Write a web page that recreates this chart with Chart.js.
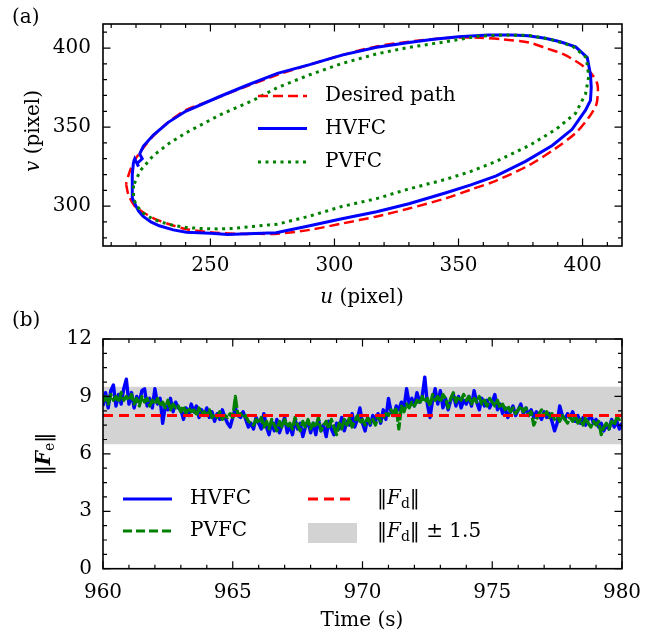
<!DOCTYPE html>
<html><head><meta charset="utf-8">
<script src="https://cdn.jsdelivr.net/npm/chart.js@4/dist/chart.umd.min.js"></script>
<style>
html,body{margin:0;padding:0;background:#fff;}
#wrapA{position:absolute;left:0;top:0;width:660px;height:310px;}
#wrapB{position:absolute;left:0;top:310px;width:660px;height:325px;}
</style></head>
<body>
<div id="wrapA"><canvas id="chartA" width="660" height="310"></canvas></div>
<div id="wrapB"><canvas id="chartB" width="660" height="325"></canvas></div>
<script>
// ---------------- Panel (a) data: image-plane paths (pixel) ----------------
const uTicks = [250, 300, 350, 400];
const vTicks = [300, 350, 400];
const desiredU = [216,217,219.5,224,228,234,240,247,254,262,270,277,290,303,317,330,345,355,365,378.6,389,397.4,402.8,405.5,406.1,406,404,401.4,397,392,386,378.6,368,358.4,347,330,317,303,290,277,264,254,247,240,233,227,223,220,217.5,216];
const desiredV = [314,307,300,295,291.7,288.2,285.6,284,283,282.5,282.5,282.5,285,289,293.5,298.5,305,310.5,316,326,336.4,346.5,356.7,364,370,377,383,387.2,392,396.3,399.5,403.4,405.5,406.5,406.5,404,401,395.5,389.5,383,375.5,369.3,365,360.7,353,344.5,337,330.3,322,314];
const hvfcU = [219,218.5,218.5,218.5,220,221,222.8,226,229.4,235,240.3,250,257,265,276.5,290,303,317,330,345,355,365.2,377,387.8,395.8,401.2,403.2,403.5,403.2,401.9,397.2,391,385,378,371.6,362,350,340,330,317,303,290,277,264,254,240,233,227,223,221.5,222.5,220.5,221,219.5,219];
const hvfcV = [328,320,312,305,300,297,293.7,290,287.6,285,283.5,282.8,282,282.5,283.2,287.6,292,296.5,301.5,308.5,313.5,319.1,328.3,338.4,348.6,360.7,366.9,375,383.1,394,400.7,404,406.2,407.8,408.3,408.3,407.2,405.5,403.5,400.5,395.5,389.5,384,376,369.5,360,353,345,338,333,330,327,325,330,328];
const pvfcU = [219,219,219.9,223,226.9,233,240.3,247,253.8,260,267.2,277,290,303,317,330,345,355,365.2,378.6,389.3,397.2,401.2,402.5,401.5,395.8,387,378.6,368,358,347,330,317,303,290,277,267.2,253.8,240.3,233.6,226.9,221.6,219];
const pvfcV = [313,306,300.8,295.5,291.7,288.5,286.5,285.8,285.6,286,287.2,288.6,293.7,299.8,304.8,310.9,317,322,328.3,338.4,348.6,358.8,371,382.1,394,401.4,405.5,408,408.2,407.5,404.5,400.4,396.3,390.2,383.1,375,366.9,357.7,346.5,340,331.9,322.2,313];

// ---------------- Panel (b) data: force norm vs time ----------------
const timeTicks = [960, 965, 970, 975, 980];
const forceTicks = [0, 3, 6, 9, 12];
const timeStart = 960;
const timeStep = 0.1;
const hvfcForce = [
8.5,9.2,8.4,9.3,9.6,8.5,9.1,8.6,9.4,9.9,
8.6,9.2,8.4,9.0,8.7,9.3,9.4,8.5,8.9,8.4,
9.4,8.6,8.9,7.6,8.5,8.3,8.9,8.2,8.7,8.4,
8.3,7.8,8.4,8.0,8.6,8.2,8.5,7.9,8.3,8.0,
8.4,7.9,8.2,7.7,8.1,7.8,8.3,7.9,7.6,7.4,
7.9,8.4,8.0,7.9,8.2,7.8,7.4,7.6,7.3,7.9,
7.6,7.3,8.1,7.4,7.0,7.7,7.2,7.8,7.1,7.5,
7.9,7.1,7.5,7.0,7.8,7.3,7.6,6.9,7.4,7.7,
7.1,7.6,7.0,7.8,7.2,7.5,6.9,7.7,7.3,7.0,
7.6,7.3,7.9,7.2,7.7,7.5,8.1,7.4,7.8,8.4,
7.6,7.2,7.9,7.5,8.0,7.7,8.1,7.6,8.3,7.8,
8.9,8.2,8.0,8.5,8.3,8.7,8.4,9.4,8.6,8.9,
8.5,9.2,8.7,9.0,10.0,8.6,7.9,8.8,9.4,8.6,
9.3,8.4,8.9,8.3,8.8,9.1,8.5,9.0,8.4,8.8,
8.6,9.0,8.5,9.3,8.7,8.3,8.9,8.5,8.8,8.4,
8.7,9.1,8.3,8.6,8.1,8.4,7.9,8.2,8.5,8.0,
8.3,8.6,8.1,8.4,8.0,8.3,7.9,8.2,8.0,7.8,
8.2,7.9,8.1,7.7,7.2,7.6,8.5,8.0,7.8,8.1,
7.9,8.2,7.7,8.0,7.6,7.9,7.5,7.8,8.0,7.6,
7.8,7.4,7.6,7.2,7.5,7.3,7.8,7.4,7.7,7.3,
7.6];
const pvfcForce = [
8.7,9.0,8.6,9.1,8.8,9.0,8.7,9.2,8.8,9.0,
8.8,9.1,8.6,8.9,8.5,9.0,8.7,8.9,8.5,8.8,
8.6,8.9,8.5,8.7,8.4,8.8,8.3,8.6,8.4,8.5,
8.2,8.5,8.1,8.4,8.2,8.3,8.0,8.4,8.1,8.2,
8.0,8.3,7.9,8.1,7.9,8.2,7.8,8.0,7.9,8.1,
7.9,9.0,8.0,8.1,7.9,8.0,7.7,7.6,7.5,7.8,
7.6,7.9,7.4,7.7,7.3,7.8,7.5,7.2,7.7,7.4,
7.8,7.4,7.6,7.3,7.9,7.5,7.2,7.7,7.4,7.8,
7.3,7.6,7.4,7.9,7.2,7.5,7.7,7.3,7.8,7.4,
7.0,7.6,7.3,7.8,7.5,7.9,7.4,7.7,8.0,7.6,
7.8,7.5,7.9,7.6,7.8,7.5,8.0,7.7,7.9,8.1,
8.0,8.3,8.1,8.4,7.3,8.5,8.2,8.6,8.4,8.7,
8.5,8.8,8.6,9.0,8.7,8.9,8.5,9.1,8.8,9.0,
8.7,9.1,8.9,8.4,8.9,9.2,8.7,9.0,8.8,9.1,
8.8,9.0,8.6,8.9,8.7,9.0,8.6,8.8,8.5,8.9,
8.7,8.5,8.8,8.4,8.6,8.3,8.5,8.2,8.4,8.1,
8.3,8.5,8.2,8.4,8.0,8.2,7.5,7.8,8.1,8.3,
8.0,8.2,7.9,8.1,7.8,8.0,7.7,8.0,7.8,7.6,
7.9,7.7,8.0,7.6,7.8,7.5,7.9,7.6,7.4,7.7,
7.5,7.7,7.0,7.4,7.6,7.3,7.7,7.5,7.9,7.8,
7.9];
const desiredForce = 8;
const bandHalfWidth = 1.5;
const timeRange = [960, 980];

// ---------------- helpers ----------------
const FONT = "'DejaVu Serif', 'Liberation Serif', serif";
const FS = 20;
Chart.defaults.font.family = FONT;
Chart.defaults.color = '#000';

function pts(xs, ys) { return xs.map((x, i) => ({x: x, y: ys[i]})); }
function series(vals) { return vals.map((v, i) => ({x: timeStart + i * timeStep, y: v})); }

function drawRich(ctx, parts, x, y, align) {
  let w = 0;
  parts.forEach(p => { ctx.font = p.font; p.w = ctx.measureText(p.t).width; w += p.w; });
  let cx = align === 'center' ? x - w / 2 : (align === 'right' ? x - w : x);
  ctx.textBaseline = 'middle';
  ctx.textAlign = 'left';
  parts.forEach(p => { ctx.font = p.font; ctx.fillText(p.t, cx, y + (p.dy || 0)); cx += p.w; });
}
const R = FS + 'px ' + FONT;
const I = 'italic ' + FS + 'px ' + FONT;
const BI = 'italic bold ' + FS + 'px ' + FONT;
const SUB = '14px ' + FONT;

function frame(o) {
  return {
    id: 'frame',
    afterDatasetsDraw(chart) {
      const ctx = chart.ctx, a = chart.chartArea, x = chart.scales.x, y = chart.scales.y;
      ctx.save();
      ctx.strokeStyle = '#000';
      ctx.lineWidth = 1.2;
      ctx.beginPath();
      const nx = Math.round((o.xMinorEnd - o.xMinorStart) / o.xMinor);
      for (let i = 0; i <= nx; i++) {
        const px = x.getPixelForValue(o.xMinorStart + i * o.xMinor);
        if (px < a.left - 0.5 || px > a.right + 0.5) continue;
        ctx.moveTo(px, a.bottom); ctx.lineTo(px, a.bottom - 4);
        ctx.moveTo(px, a.top); ctx.lineTo(px, a.top + 4);
      }
      const ny = Math.round((o.yMinorEnd - o.yMinorStart) / o.yMinor);
      for (let i = 0; i <= ny; i++) {
        const py = y.getPixelForValue(o.yMinorStart + i * o.yMinor);
        if (py < a.top - 0.5 || py > a.bottom + 0.5) continue;
        ctx.moveTo(a.left, py); ctx.lineTo(a.left + 4, py);
        ctx.moveTo(a.right, py); ctx.lineTo(a.right - 4, py);
      }
      x.ticks.forEach(t => {
        const px = x.getPixelForValue(t.value);
        ctx.moveTo(px, a.bottom); ctx.lineTo(px, a.bottom - 7.5);
        ctx.moveTo(px, a.top); ctx.lineTo(px, a.top + 7.5);
      });
      y.ticks.forEach(t => {
        const py = y.getPixelForValue(t.value);
        ctx.moveTo(a.left, py); ctx.lineTo(a.left + 7.5, py);
        ctx.moveTo(a.right, py); ctx.lineTo(a.right - 7.5, py);
      });
      ctx.stroke();
      ctx.lineWidth = 1.6;
      ctx.strokeRect(a.left, a.top, a.right - a.left, a.bottom - a.top);
      ctx.restore();
    }
  };
}

// ---------------- Chart (a) ----------------
const legendA = {
  id: 'legendA',
  afterDraw(chart) {
    const ctx = chart.ctx;
    ctx.save();
    ctx.fillStyle = '#000';
    drawRich(ctx, [{t: '(a)', font: R}], 12, 18, 'left');
    drawRich(ctx, [{t: 'u', font: I}, {t: ' (pixel)', font: R}], 362, 298, 'center');
    ctx.save();
    ctx.translate(34, 131);
    ctx.rotate(-Math.PI / 2);
    drawRich(ctx, [{t: 'v', font: I}, {t: ' (pixel)', font: R}], 0, 0, 'center');
    ctx.restore();
    const items = [
      {ds: 2, y: 96},
      {ds: 1, y: 128.5},
      {ds: 0, y: 162}
    ];
    items.forEach(it => {
      const d = chart.data.datasets[it.ds];
      ctx.save();
      ctx.strokeStyle = d.borderColor;
      ctx.lineWidth = d.borderWidth;
      ctx.setLineDash(d.borderDash || []);
      ctx.beginPath();
      ctx.moveTo(258, it.y); ctx.lineTo(307, it.y);
      ctx.stroke();
      ctx.restore();
      drawRich(ctx, [{t: d.label, font: R}], 325, it.y, 'left');
    });
    ctx.restore();
  }
};

new Chart(document.getElementById('chartA'), {
  type: 'scatter',
  data: {
    datasets: [
      {label: 'PVFC', data: pts(pvfcU, pvfcV), showLine: true, borderColor: '#008000', borderWidth: 3, borderDash: [3, 4.5], pointRadius: 0, tension: 0, fill: false},
      {label: 'HVFC', data: pts(hvfcU, hvfcV), showLine: true, borderColor: '#0000ff', borderWidth: 3, pointRadius: 0, tension: 0, fill: false},
      {label: 'Desired path', data: pts(desiredU, desiredV), showLine: true, borderColor: '#ff0000', borderWidth: 2.5, borderDash: [10, 5], pointRadius: 0, tension: 0.3, fill: false}
    ]
  },
  options: {
    responsive: false, animation: false, devicePixelRatio: 1,
    layout: {padding: {left: 0, top: 16, right: 38, bottom: 0}},
    plugins: {legend: {display: false}, tooltip: {enabled: false}},
    scales: {
      x: {type: 'linear', min: 206.7, max: 415.9,
        grid: {display: false, drawTicks: false}, border: {display: false},
        ticks: {font: {size: FS, family: FONT}, color: '#000', padding: 8, autoSkip: false, maxRotation: 0},
        afterBuildTicks: s => { s.ticks = uTicks.map(v => ({value: v})); },
        afterFit: s => { s.height = 64; }
      },
      y: {type: 'linear', min: 274.8, max: 415.2,
        grid: {display: false, drawTicks: false}, border: {display: false},
        ticks: {font: {size: FS, family: FONT}, color: '#000', padding: 12, autoSkip: false},
        afterBuildTicks: s => { s.ticks = vTicks.map(v => ({value: v})); },
        afterFit: s => { s.width = 103; }
      }
    }
  },
  plugins: [frame({xMinorStart: 210, xMinorEnd: 410, xMinor: 10, yMinorStart: 280, yMinorEnd: 410, yMinor: 10}), legendA]
});

// ---------------- Chart (b) ----------------
const legendB = {
  id: 'legendB',
  afterDraw(chart) {
    const ctx = chart.ctx;
    ctx.save();
    ctx.fillStyle = '#000';
    drawRich(ctx, [{t: '(b)', font: R}], 12, 11, 'left');
    drawRich(ctx, [{t: 'Time (s)', font: R}], 362, 311, 'center');
    ctx.save();
    ctx.translate(45, 144);
    ctx.rotate(-Math.PI / 2);
    drawRich(ctx, [{t: '\u2016', font: R}, {t: 'F', font: BI}, {t: 'e', font: SUB, dy: 5}, {t: '\u2016', font: R}], 0, 0, 'center');
    ctx.restore();
    const ds = chart.data.datasets;
    const lineItem = (d, x0, x1, y) => {
      ctx.save();
      ctx.strokeStyle = d.borderColor; ctx.lineWidth = 3;
      ctx.setLineDash(d.legendDash || []);
      ctx.beginPath(); ctx.moveTo(x0, y); ctx.lineTo(x1, y); ctx.stroke();
      ctx.restore();
    };
    lineItem(ds[2], 123, 172, 189);
    drawRich(ctx, [{t: ds[2].label, font: R}], 190, 189, 'left');
    lineItem(ds[1], 123, 172, 221);
    drawRich(ctx, [{t: ds[1].label, font: R}], 190, 221, 'left');
    lineItem(ds[0], 308, 355, 189);
    drawRich(ctx, [{t: '\u2016', font: R}, {t: 'F', font: I}, {t: 'd', font: SUB, dy: 5}, {t: '\u2016', font: R}], 377, 189, 'left');
    ctx.fillStyle = '#d3d3d3';
    ctx.fillRect(308, 213, 49, 20);
    ctx.fillStyle = '#000';
    drawRich(ctx, [{t: '\u2016', font: R}, {t: 'F', font: I}, {t: 'd', font: SUB, dy: 5}, {t: '\u2016 \u00b1 1.5', font: R}], 377, 222, 'left');
    ctx.restore();
  }
};

new Chart(document.getElementById('chartB'), {
  type: 'scatter',
  data: {
    datasets: [
      {label: '\u2016Fd\u2016', data: timeRange.map(t => ({x: t, y: desiredForce})), showLine: true, borderColor: '#ff0000', borderWidth: 3, borderDash: [10, 6], legendDash: [10, 6], pointRadius: 0, fill: false},
      {label: 'PVFC', data: series(pvfcForce), showLine: true, borderColor: '#008000', borderWidth: 3.2, borderDash: [12, 2], legendDash: [9, 4], borderJoinStyle: 'round', pointRadius: 0, tension: 0, fill: false},
      {label: 'HVFC', data: series(hvfcForce), showLine: true, borderColor: '#0000ff', borderWidth: 3.4, borderJoinStyle: 'round', pointRadius: 0, tension: 0, fill: false},
      {label: '\u2016Fd\u2016 \u00b1 1.5 upper', data: timeRange.map(t => ({x: t, y: desiredForce + bandHalfWidth})), showLine: true, borderWidth: 0, borderColor: 'rgba(0,0,0,0)', backgroundColor: '#d3d3d3', pointRadius: 0, fill: '+1'},
      {label: '\u2016Fd\u2016 \u00b1 1.5 lower', data: timeRange.map(t => ({x: t, y: desiredForce - bandHalfWidth})), showLine: true, borderWidth: 0, borderColor: 'rgba(0,0,0,0)', pointRadius: 0, fill: false}
    ]
  },
  options: {
    responsive: false, animation: false, devicePixelRatio: 1,
    layout: {padding: {left: 0, top: 29, right: 38, bottom: 0}},
    plugins: {legend: {display: false}, tooltip: {enabled: false}},
    scales: {
      x: {type: 'linear', min: 960, max: 980,
        grid: {display: false, drawTicks: false}, border: {display: false},
        ticks: {font: {size: FS, family: FONT}, color: '#000', padding: 12, autoSkip: false, maxRotation: 0},
        afterBuildTicks: s => { s.ticks = timeTicks.map(v => ({value: v})); },
        afterFit: s => { s.height = 66.3; }
      },
      y: {type: 'linear', min: 0, max: 12,
        grid: {display: false, drawTicks: false}, border: {display: false},
        ticks: {font: {size: FS, family: FONT}, color: '#000', padding: 11, autoSkip: false},
        afterBuildTicks: s => { s.ticks = forceTicks.map(v => ({value: v})); },
        afterFit: s => { s.width = 103; }
      }
    }
  },
  plugins: [frame({xMinorStart: 960, xMinorEnd: 980, xMinor: 1, yMinorStart: 0, yMinorEnd: 12, yMinor: 0.75}), legendB]
});
</script>
</body></html>
